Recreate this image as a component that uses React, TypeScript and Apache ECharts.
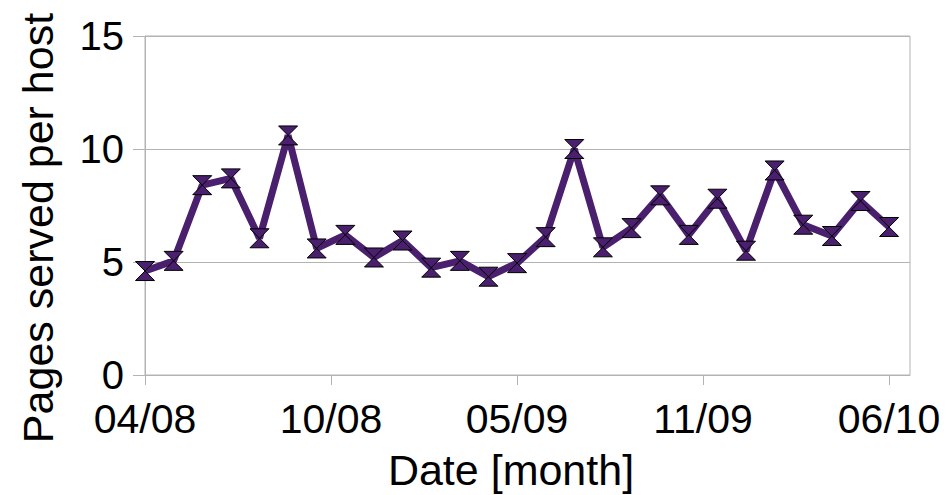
import React, { useEffect, useRef } from "react";
import * as echarts from "echarts";

const months = [
  "04/08", "05/08", "06/08", "07/08", "08/08", "09/08", "10/08", "11/08", "12/08",
  "01/09", "02/09", "03/09", "04/09", "05/09", "06/09", "07/09", "08/09", "09/09",
  "10/09", "11/09", "12/09", "01/10", "02/10", "03/10", "04/10", "05/10", "06/10",
];
const pagesPerHost = [
  4.6, 5.05, 8.4, 8.7, 6.05, 10.6, 5.6, 6.2, 5.2, 5.95,
  4.75, 5.05, 4.35, 4.95, 6.1, 10.0, 5.65, 6.5, 7.95, 6.2,
  7.8, 5.5, 9.05, 6.65, 6.15, 7.7, 6.55,
];
const xTickIndices = [0, 6.5, 13, 19.5, 26];
const yTicks = [0, 5, 10, 15];

const FONT = "'Liberation Sans', Arial, sans-serif";

export default function App() {
  const ref = useRef<HTMLDivElement>(null);
  useEffect(() => {
    document.body.style.margin = "0";
    if (!ref.current) return;
    const chart = echarts.init(ref.current, null, { renderer: "svg" });
    const hourglass = "path://M0,0 L20,0 L0,20 L20,20 Z";
    chart.setOption({
      animation: false,
      backgroundColor: "#ffffff",
      grid: {
        left: 145,
        right: 36,
        top: 36,
        bottom: 120,
        show: true,
        borderColor: "#b3b3b3",
        borderWidth: 1,
        backgroundColor: "transparent",
      },
      xAxis: {
        type: "value",
        min: 0,
        max: 26.73,
        splitLine: { show: false },
        axisLine: { show: true, lineStyle: { color: "#b3b3b3", width: 1 } },
        axisTick: {
          show: true,
          length: 10,
          customValues: xTickIndices,
          lineStyle: { color: "#b3b3b3" },
        },
        axisLabel: {
          customValues: xTickIndices,
          formatter: (v: number) => months[Math.floor(v)] ?? "",
          color: "#000",
          fontFamily: FONT,
          fontSize: 41,
          margin: 23,
        },
      },
      yAxis: {
        type: "value",
        min: yTicks[0],
        max: yTicks[yTicks.length - 1],
        interval: 5,
        splitLine: { show: true, lineStyle: { color: "#b3b3b3", width: 1 } },
        axisLine: { show: true, lineStyle: { color: "#b3b3b3", width: 1 } },
        axisTick: { show: true, length: 12, lineStyle: { color: "#b3b3b3" } },
        axisLabel: {
          color: "#000",
          fontFamily: FONT,
          fontSize: 40,
          margin: 21,
        },
      },
      graphic: [
        {
          type: "text",
          x: 511,
          y: 470,
          style: {
            text: "Date [month]",
            font: `43px ${FONT}`,
            fill: "#000",
            textAlign: "center",
            textVerticalAlign: "middle",
          },
        },
        {
          type: "text",
          x: 38,
          y: 228,
          rotation: Math.PI / 2,
          style: {
            text: "Pages served per host",
            font: `43px ${FONT}`,
            fill: "#000",
            textAlign: "center",
            textVerticalAlign: "middle",
          },
        },
      ],
      series: [
        {
          type: "line",
          data: pagesPerHost.map((v, i) => [i, v]),
          lineStyle: { color: "#4a1f6e", width: 7 },
          itemStyle: { color: "#4a1f6e", borderColor: "#000", borderWidth: 1 },
          symbol: hourglass,
          symbolSize: [19, 19],
          z: 3,
        },
      ],
    });
    return () => chart.dispose();
  }, []);
  return <div ref={ref} style={{ width: 946, height: 495 }} />;
}
